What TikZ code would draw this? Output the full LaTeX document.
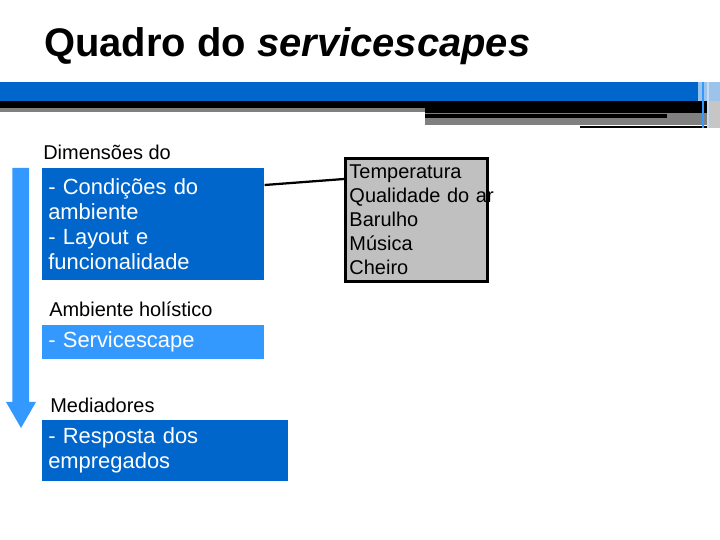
\documentclass[tikz,border=0pt]{standalone}
\usepackage{fontspec}
\setmainfont{Liberation Sans}
\usepackage{tikz}
\usetikzlibrary{calc,positioning}
\definecolor{SlideBlue}{HTML}{0066CC}
\definecolor{SlideLight}{HTML}{3399FF}
\definecolor{SlideGrey}{HTML}{C0C0C0}
\definecolor{SlideRule}{HTML}{808080}
\definecolor{SlideFade}{HTML}{9CC3EA}
\newcommand{\QuadroTitle}{\fontsize{28.4}{32}\selectfont\bfseries}
\newcommand{\QuadroBox}{\fontsize{15.6}{17.8}\selectfont}
\newcommand{\QuadroLabel}{\fontsize{14.2}{17.1}\selectfont}
\tikzset{
  qbase/.style={
    rectangle,
    align=left,
    inner xsep=0.15cm,
    inner ysep=0pt,
    anchor=north west
  },
  darkbox/.style={qbase, fill=SlideBlue, text=white, font=\QuadroBox},
  lightbox/.style={qbase, fill=SlideLight, text=white, font=\QuadroBox},
  listbox/.style={
    qbase,
    inner xsep=0.1cm,
    fill=SlideGrey,
    draw=black,
    line width=2.1pt,
    text=black,
    font=\QuadroLabel
  },
  headlabel/.style={
    anchor=base west,
    inner sep=0pt,
    text=black,
    font=\QuadroLabel
  },
  linkline/.style={
    draw=black,
    line width=1.6pt
  }
}

\begin{document}
\begin{tikzpicture}[x=1cm,y=1cm]
\path[use as bounding box] (0,0) rectangle (18,13.5);

\node[anchor=base west, inner sep=0pt, font=\QuadroTitle] (title) at (1.1,12.075)
  {Quadro do \textit{servicescapes}};

\fill[SlideBlue] (0,11.45) rectangle (17.45,10.975);
\fill[black] (0,10.975) rectangle (17.7,10.8);
\fill[SlideRule] (0,10.8) rectangle (10.625,10.7);
\fill[black] (10.625,10.8) rectangle (17.7,10.675);
\fill[SlideRule] (10.625,10.675) rectangle (17.7,10.375);
\fill[black] (10.625,10.65) rectangle (16.675,10.55);
\fill[black] (14.5,10.35) rectangle (17.7,10.3);
\fill[SlideFade] (17.45,11.45) rectangle (18,10.975);
\fill[SlideRule!45] (17.7,10.975) rectangle (18,10.3);
\fill[SlideLight] (17.55,11.45) rectangle (17.6,10.3);
\fill[SlideFade!60] (17.68,11.45) rectangle (17.72,10.3);

\fill[SlideLight] (0.31,9.3) -- (0.73,9.3) -- (0.73,3.45) -- (0.9,3.45)
  -- (0.525,2.8) -- (0.15,3.45) -- (0.31,3.45) -- cycle;

\node[headlabel] (dimlabel) at (1.075,9.5) {Dimensões do};
\node[darkbox, minimum width=5.55cm, minimum height=2.8cm, text width=5.25cm] (condbox) at (1.05,9.3)
  {- Condições do\\ambiente\\- Layout e\\funcionalidade};

\node[headlabel] (holilabel) at (1.225,5.575) {Ambiente holístico};
\node[lightbox, minimum width=5.55cm, minimum height=0.85cm, text width=5.25cm] (scapebox) at (1.05,5.375)
  {- Servicescape};

\node[headlabel] (medlabel) at (1.25,3.175) {Mediadores};
\node[darkbox, minimum width=6.15cm, minimum height=1.525cm, text width=5.85cm] (mediabox) at (1.05,3.0)
  {- Resposta dos\\empregados};

\node[listbox, minimum width=3.55cm, minimum height=3.08cm, text width=3.35cm] (envlist) at (8.6,9.575)
  {Temperatura\\\mbox{Qualidade do ar}\\Barulho\\Música\\Cheiro};

\draw[linkline] ([yshift=-0.425cm]condbox.north east) -- ([yshift=-0.55cm]envlist.north west);

\end{tikzpicture}
\end{document}
